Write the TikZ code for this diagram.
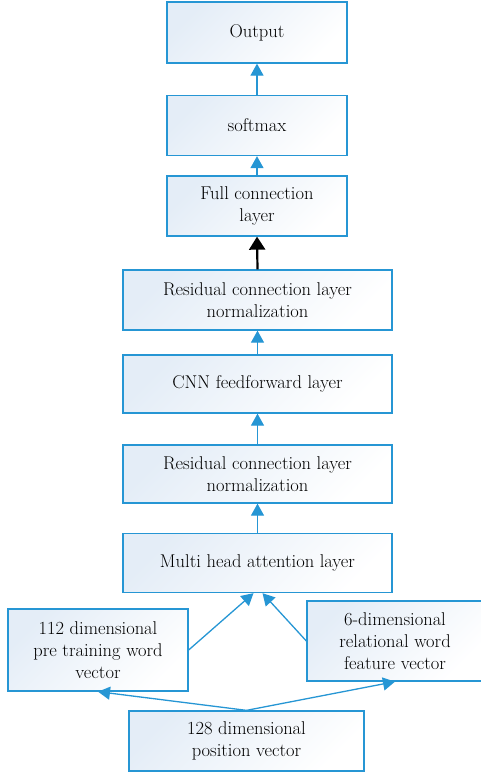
\documentclass[tikz,border=0pt]{standalone}
\usetikzlibrary{arrows.meta}
\definecolor{edge}{RGB}{38,150,212}
\definecolor{boxfill}{RGB}{228,237,247}
\begin{document}
\begin{tikzpicture}[x=1pt,y=-1pt,
  box/.style={draw=edge, line width=1.3pt, left color=boxfill, right color=white, shading angle=45,
    align=center, inner sep=2pt, font=\fontsize{18.5}{22}\selectfont},
  arr/.style={draw=edge, line width=1.3pt, -{Triangle[width=13pt,length=12pt]}},
  blk/.style={draw=black, line width=2.2pt, -{Triangle[width=16pt,length=13pt]}}]
\useasboundingbox (0,0) rectangle (481,774);
\begin{scope}
\clip (0,0) rectangle (481,774);
\node[box, minimum width=180pt, minimum height=61pt] (out) at (257,32.5) {Output};
\node[box, minimum width=180pt, minimum height=60pt] (soft) at (257,125.5) {softmax};
\node[box, minimum width=180pt, minimum height=60pt] (full) at (257,206) {Full connection\\layer};
\node[box, minimum width=269pt, minimum height=60pt] (res1) at (257.5,300) {Residual connection layer\\normalization};
\node[box, minimum width=269pt, minimum height=58pt] (cnn) at (257.5,384) {CNN feedforward layer};
\node[box, minimum width=269pt, minimum height=58pt] (res2) at (257.5,474) {Residual connection layer\\normalization};
\node[box, minimum width=269pt, minimum height=59pt] (mha) at (257.5,563) {Multi head attention layer};
\node[box, minimum width=180pt, minimum height=82pt] (v112) at (98,650) {112 dimensional\\pre training word\\vector};
\node[box, minimum width=176pt, minimum height=80pt] (v6) at (395,641) {6-dimensional\\relational word\\feature vector};
\node[box, minimum width=235pt, minimum height=60pt] (v128) at (246.5,741) {128 dimensional\\position vector};
\end{scope}
\draw[arr] (soft.north) -- (out.south);
\draw[arr] (full.north) -- (soft.south);
\draw[blk] (res1.north) -- (full.south);
\draw[arr] (cnn.north) -- (res1.south);
\draw[arr] (res2.north) -- (cnn.south);
\draw[arr] (mha.north) -- (res2.south);
\draw[arr] (v112.east) -- ([xshift=-4pt]mha.south);
\draw[arr] (v6.west) -- ([xshift=5pt]mha.south);
\draw[arr] (v128.north) -- (v112.south);
\draw[arr] (v128.north) -- (v6.south);
\end{tikzpicture}
\end{document}
